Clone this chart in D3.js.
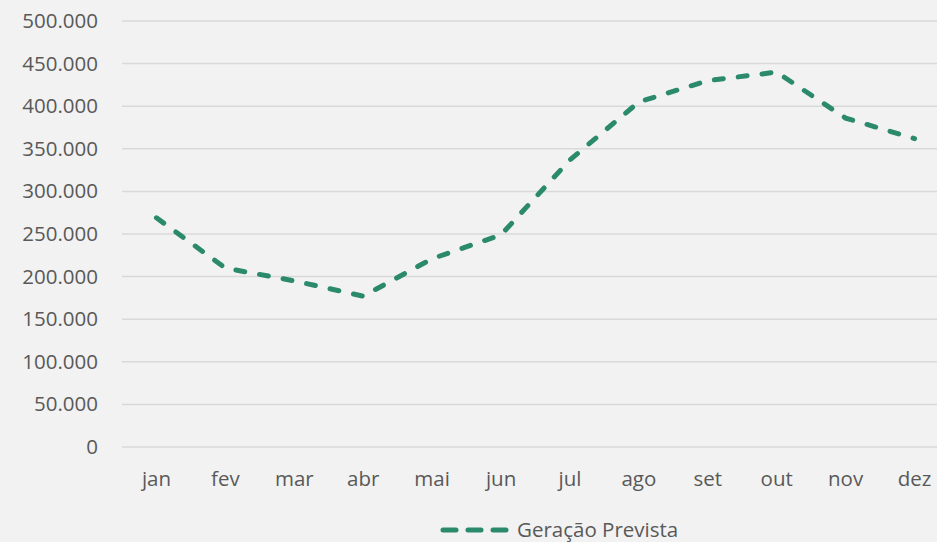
<!DOCTYPE html>
<html>
<head>
<meta charset="utf-8">
<script src="https://cdn.jsdelivr.net/npm/d3@7"></script>
<style>
  html, body { margin: 0; padding: 0; background: #f2f2f2; overflow: hidden; }
  svg { display: block; font-family: "Open Sans", "Noto Sans", sans-serif; }
</style>
</head>
<body>
<div id="chart"></div>
<script>
const MONTHS = ["jan","fev","mar","abr","mai","jun","jul","ago","set","out","nov","dez"];
const GERACAO_PREVISTA = [269000, 210000, 195000, 177000, 221000, 249000, 337000, 405000, 430000, 440000, 386000, 362000];
const Y_TICKS = [0, 50000, 100000, 150000, 200000, 250000, 300000, 350000, 400000, 450000, 500000];
const SERIES_NAME = "Geração Prevista";

const width = 937, height = 542;
const plot = { left: 122, right: 949, top: 21, bottom: 447 };
const lineColor = "#2b8a6b";
const textColor = "#595959";
const fontSize = 20.5;

const fmt = v => v === 0 ? "0" : d3.format(",")(v).replace(/,/g, ".");

const svg = d3.select("#chart").append("svg")
  .attr("width", width)
  .attr("height", height);

svg.append("rect").attr("width", width).attr("height", height).attr("fill", "#f2f2f2");

const x = d3.scaleBand().domain(MONTHS).range([plot.left, plot.right]);
const y = d3.scaleLinear().domain([0, 500000]).range([plot.bottom, plot.top]);

// gridlines
svg.append("g")
  .selectAll("line")
  .data(Y_TICKS)
  .join("line")
  .attr("x1", plot.left).attr("x2", plot.right)
  .attr("y1", d => y(d)).attr("y2", d => y(d))
  .attr("stroke", "#d9d9d9")
  .attr("stroke-width", 1.5);

// y axis labels
const yAxis = svg.append("g")
  .attr("transform", `translate(${plot.left - 24},0)`)
  .call(d3.axisLeft(y).tickValues(Y_TICKS).tickFormat(fmt).tickSize(0).tickPadding(0));
yAxis.select(".domain").remove();
yAxis.selectAll("text")
  .attr("fill", textColor)
  .attr("font-size", fontSize)
  .attr("font-family", "Open Sans, sans-serif");

// x axis labels
const xAxis = svg.append("g")
  .attr("transform", `translate(0,${plot.bottom + 24})`)
  .call(d3.axisBottom(x).tickSize(0).tickPadding(0));
xAxis.select(".domain").remove();
xAxis.selectAll("text")
  .attr("fill", textColor)
  .attr("font-size", fontSize)
  .attr("font-family", "Open Sans, sans-serif");

// series line
const line = d3.line()
  .x((d, i) => x(MONTHS[i]) + x.bandwidth() / 2)
  .y(d => y(d));

svg.append("path")
  .datum(GERACAO_PREVISTA)
  .attr("d", line)
  .attr("fill", "none")
  .attr("stroke", lineColor)
  .attr("stroke-width", 5)
  .attr("stroke-linecap", "round")
  .attr("stroke-dasharray", "9,15");

// legend
const legend = svg.append("g").attr("transform", "translate(443,530)");
legend.append("line")
  .attr("x1", 0).attr("x2", 67)
  .attr("y1", 0).attr("y2", 0)
  .attr("stroke", lineColor)
  .attr("stroke-width", 5)
  .attr("stroke-linecap", "round")
  .attr("stroke-dasharray", "13,12");
legend.append("text")
  .attr("x", 74)
  .attr("y", 0)
  .attr("dy", "0.35em")
  .attr("fill", textColor)
  .attr("font-size", fontSize)
  .text(SERIES_NAME);
</script>
</body>
</html>
